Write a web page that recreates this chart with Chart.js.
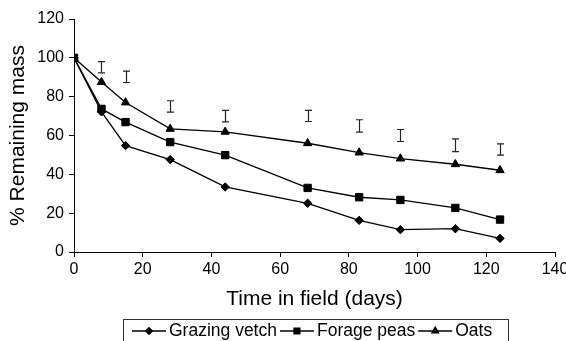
<!DOCTYPE html>
<html>
<head>
<meta charset="utf-8">
<script src="https://cdn.jsdelivr.net/npm/chart.js@4/dist/chart.umd.min.js"></script>
<style>
  html, body { margin: 0; padding: 0; background: #fff; }
  #wrap { width: 566px; height: 341px; position: relative; }
</style>
</head>
<body>
<div id="wrap"><canvas id="c" width="566" height="341"></canvas></div>
<script>
// ---- data ----
const days = [0, 8, 15, 28, 44, 68, 83, 95, 111, 124];
const grazingVetch = [100, 72.2, 54.8, 47.6, 33.5, 25.1, 16.3, 11.5, 12.0, 7.0];
const foragePeas = [100, 73.7, 66.9, 56.6, 49.9, 33.0, 28.2, 26.8, 22.7, 16.7];
const oats = [100, 87.5, 77.0, 63.4, 61.9, 56.0, 51.2, 48.1, 45.2, 42.1];
// LSD / error bars drawn above the curves
const barDays = [8, 15, 28, 44, 68, 83, 95, 111, 124];
const barLow = [92.3, 87.3, 72.0, 67.0, 67.2, 61.7, 56.9, 51.7, 49.9];
const barHigh = [98.0, 93.2, 77.9, 72.9, 72.9, 68.1, 63.1, 58.3, 55.7];
const seriesNames = ['Grazing vetch', 'Forage peas', 'Oats'];
const xTicks = [0, 20, 40, 60, 80, 100, 120, 140];
const yTicks = [0, 20, 40, 60, 80, 100, 120];

const FONT = "'Liberation Sans', Arial, Helvetica, sans-serif";
const INK = '#000';

function pts(ys) { return days.map((d, i) => ({x: d, y: ys[i]})); }

const errorBarPlugin = {
  id: 'errorBars',
  afterDatasetsDraw(chart) {
    const {ctx, scales: {x, y}} = chart;
    ctx.save();
    ctx.strokeStyle = '#222';
    ctx.lineWidth = 1.2;
    const cap = 3.5;
    barDays.forEach((d, i) => {
      const px = Math.round(x.getPixelForValue(d)) + 0.5;
      const top = y.getPixelForValue(barHigh[i]);
      const bot = y.getPixelForValue(barLow[i]);
      ctx.beginPath();
      ctx.moveTo(px, top); ctx.lineTo(px, bot);
      ctx.moveTo(px - cap, top); ctx.lineTo(px + cap, top);
      ctx.moveTo(px - cap, bot); ctx.lineTo(px + cap, bot);
      ctx.stroke();
    });
    ctx.restore();
  }
};

const legendPlugin = {
  id: 'boxLegend',
  afterDraw(chart) {
    const ctx = chart.ctx;
    ctx.save();
    ctx.strokeStyle = '#333';
    ctx.lineWidth = 1;
    ctx.strokeRect(123.5, 319.5, 385, 40);
    ctx.font = '17.5px ' + FONT;
    ctx.textBaseline = 'middle';
    ctx.textAlign = 'left';
    ctx.fillStyle = INK;
    const ly = 331;
    let x = 132;
    chart.data.datasets.slice().sort((a, b) => a.legendIndex - b.legendIndex).forEach(ds => {
      ctx.strokeStyle = INK;
      ctx.lineWidth = 1.3;
      ctx.beginPath();
      ctx.moveTo(x, ly); ctx.lineTo(x + 34, ly);
      ctx.stroke();
      Chart.helpers.drawPoint(ctx, {pointStyle: ds.pointStyle, radius: ds.pointRadius * 0.8, borderWidth: 1}, x + 17, ly);
      ctx.fillStyle = INK;
      ctx.fill();
      ctx.fillStyle = INK;
      ctx.fillText(ds.label, x + 37, ly + 0.5);
      x += 37 + ctx.measureText(ds.label).width + 3;
    });
    ctx.restore();
  }
};

const common = {
  borderColor: INK,
  backgroundColor: INK,
  pointBackgroundColor: INK,
  pointBorderColor: INK,
  borderWidth: 1.3,
  pointBorderWidth: 1,
  showLine: true,
  fill: false,
  tension: 0
};

new Chart(document.getElementById('c'), {
  type: 'line',
  data: {
    datasets: [
      Object.assign({}, common, {label: seriesNames[0], data: pts(grazingVetch), pointStyle: 'rectRot', pointRadius: 4.2, order: 1, legendIndex: 0}),
      Object.assign({}, common, {label: seriesNames[1], data: pts(foragePeas), pointStyle: 'rect', pointRadius: 5.2, order: 0, legendIndex: 1}),
      Object.assign({}, common, {label: seriesNames[2], data: pts(oats), pointStyle: 'triangle', pointRadius: 4.8, order: 2, legendIndex: 2})
    ]
  },
  options: {
    responsive: false,
    animation: false,
    layout: {padding: {top: 19, left: 0, right: 0, bottom: 0}},
    plugins: {legend: {display: false}, tooltip: {enabled: false}},
    elements: {point: {hoverRadius: 4}},
    scales: {
      x: {
        type: 'linear',
        min: 0, max: 140,
        afterBuildTicks(s) { s.ticks = xTicks.map(v => ({value: v})); },
        afterFit(s) { s.height = 89; s.paddingRight = 11; },
        grid: {display: true, drawOnChartArea: false, drawTicks: true, tickLength: 5, color: INK, lineWidth: 1},
        border: {display: true, color: INK, width: 1},
        ticks: {color: INK, font: {family: FONT, size: 16}, padding: 3, maxRotation: 0, autoSkip: false},
        title: {display: true, text: 'Time in field (days)', color: INK, font: {family: FONT, size: 21}, padding: {top: 0, bottom: 29}}
      },
      y: {
        type: 'linear',
        min: 0, max: 120,
        afterBuildTicks(s) { s.ticks = yTicks.map(v => ({value: v})); },
        afterFit(s) { s.width = 74; },
        grid: {display: true, drawOnChartArea: false, drawTicks: true, tickLength: 5, color: INK, lineWidth: 1},
        border: {display: true, color: INK, width: 1},
        ticks: {color: INK, font: {family: FONT, size: 16}, padding: 5},
        title: {display: true, text: '% Remaining mass', color: INK, font: {family: FONT, size: 21}, padding: {top: 6, bottom: 0}}
      }
    }
  },
  plugins: [errorBarPlugin, legendPlugin]
});
</script>
</body>
</html>
